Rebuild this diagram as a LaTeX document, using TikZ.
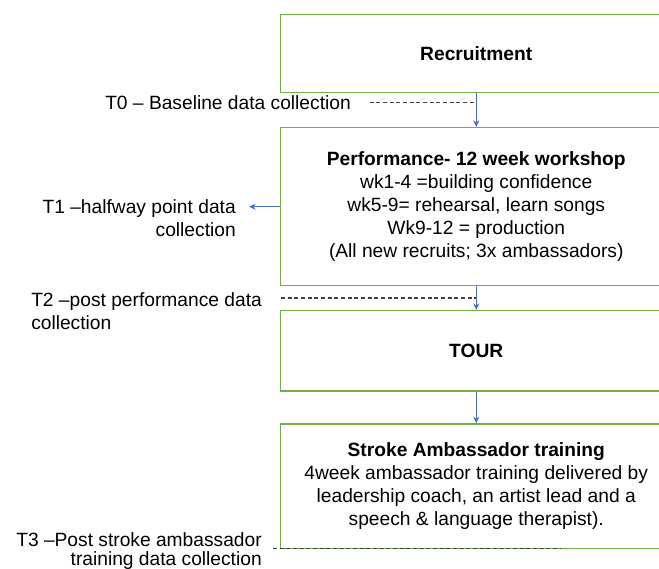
\documentclass[tikz,border=0pt]{standalone}
\usepackage{fontspec}
\setmainfont{Liberation Sans}
\usetikzlibrary{arrows.meta}
\definecolor{boxgreen}{RGB}{112,173,71}
\definecolor{flowblue}{RGB}{68,114,196}
\definecolor{dashgrey}{RGB}{64,64,64}

\begin{document}
\begin{tikzpicture}[x=0.75pt,y=-0.75pt,
  every node/.style={font=\fontsize{14.4}{17.25}\selectfont},
  stage/.style={draw=boxgreen,line width=1.1pt,minimum width=293.6pt,align=center,inner sep=0pt},
  timept/.style={inner sep=0pt},
  flow/.style={draw=flowblue,line width=0.6pt,-{Stealth[length=5pt,width=4.5pt]}},
  dashes/.style={draw=dashgrey,line width=0.8pt,dash pattern=on 3pt off 2pt}]
\useasboundingbox (0,0) rectangle (659,568);

% the four stages
\node[stage,minimum height=58.5pt] (recruit) at (476.25,53.5) {\textbf{Recruitment}};
\node[stage,minimum height=118.5pt] (perform) at (476.25,206.7)
  {\textbf{Performance- 12 week workshop}\\wk1-4 =building confidence\\wk5-9= rehearsal, learn songs\\Wk9-12 = production\\(All new recruits; 3x ambassadors)};
\node[stage,minimum height=60.2pt] (tour) at (476.25,350.85) {\textbf{TOUR}};
\node[stage,minimum height=93.4pt] (ambass) at (476.25,486.25)
  {\textbf{Stroke Ambassador training}\\4week ambassador training delivered by\\leadership coach, an artist lead and a\\speech \& language therapist).};

\draw[flow] (recruit) -- (perform);
\draw[flow] (perform) -- (tour);
\draw[flow] (tour) -- (ambass);

% data collection points
\node[timept,anchor=base west] (t0) at (105,109) {T0 – Baseline data collection};
\draw[dashes] ([xshift=14pt]t0.east) -- (t0.east -| recruit.south);

\node[timept,align=right,anchor=north east] (t1) at (236,199) {T1 –halfway point data\\collection};
\coordinate (t1tip) at (249,206.7);
\draw[flow] (perform.west) -- (t1tip);

\node[timept,align=left,anchor=north west] (t2) at (31,292.8) {T2 –post performance data\\collection};
\coordinate (t2from) at (281,298);
\draw[dashes] (t2from) -- (t2from -| perform.south);

\node[timept,align=right,anchor=north east,font=\fontsize{14.4}{14.25}\selectfont] (t3) at (262,532.3)
  {T3 –Post stroke ambassador\\training data collection};
\coordinate (t3from) at (273,548.5);
\coordinate (t3to) at (561,548.5);
\draw[dashes] (t3from) -- (t3to);
\end{tikzpicture}
\end{document}
